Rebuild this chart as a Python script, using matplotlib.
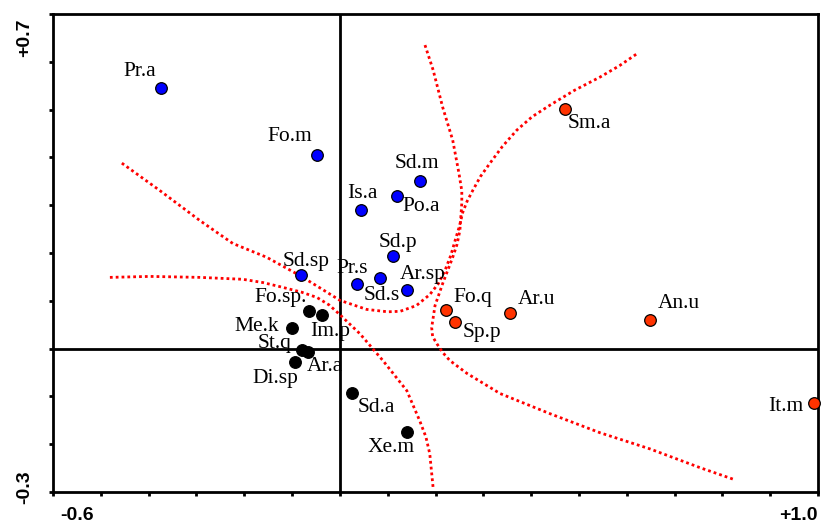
import matplotlib
matplotlib.use('Agg')
import matplotlib.pyplot as plt

# species scores (axis 1, axis 2)
blue_names = ['Pr.a', 'Fo.m', 'Sd.m', 'Is.a', 'Po.a', 'Sd.p', 'Sd.sp', 'Pr.s', 'Sd.s', 'Ar.sp']
blue_x = [-0.375, -0.048, 0.167, 0.044, 0.119, 0.111, -0.081, 0.036, 0.084, 0.140]
blue_y = [0.545, 0.405, 0.350, 0.289, 0.319, 0.193, 0.155, 0.136, 0.147, 0.122]

black_names = ['Fo.sp.', 'Im.p', 'Me.k', 'St.q', 'Ar.a', 'Di.sp', 'Sd.a', 'Xe.m']
black_x = [-0.065, -0.038, -0.100, -0.080, -0.067, -0.094, 0.025, 0.140]
black_y = [0.078, 0.071, 0.044, -0.002, -0.008, -0.029, -0.092, -0.174]

red_names = ['Sm.a', 'Fo.q', 'Sp.p', 'Ar.u', 'An.u', 'It.m']
red_x = [0.471, 0.222, 0.241, 0.356, 0.649, 0.992]
red_y = [0.501, 0.080, 0.055, 0.075, 0.059, -0.113]

# dotted boundary curves
curve_a_x = [-0.456, -0.377, -0.293, -0.224, -0.153, -0.084, -0.040, 0.000, 0.056, 0.100, 0.126,
             0.160, 0.188, 0.206, 0.220, 0.232, 0.241, 0.250, 0.257, 0.266, 0.278, 0.294, 0.314,
             0.340, 0.370, 0.402, 0.439, 0.490, 0.544, 0.585, 0.623]
curve_a_y = [0.388, 0.331, 0.268, 0.220, 0.191, 0.153, 0.126, 0.101, 0.082, 0.077, 0.078,
             0.090, 0.113, 0.136, 0.164, 0.195, 0.226, 0.256, 0.285, 0.308, 0.331, 0.360, 0.388,
             0.423, 0.457, 0.485, 0.509, 0.540, 0.568, 0.592, 0.618]

curve_b_x = [0.178, 0.195, 0.215, 0.236, 0.249, 0.255, 0.255, 0.251, 0.245, 0.236, 0.215, 0.199,
             0.192, 0.194, 0.203, 0.215, 0.230, 0.266, 0.335, 0.439, 0.544, 0.649, 0.753, 0.822]
curve_b_y = [0.635, 0.583, 0.505, 0.436, 0.367, 0.330, 0.304, 0.247, 0.218, 0.191, 0.136, 0.090,
             0.044, 0.025, 0.010, -0.008, -0.025, -0.052, -0.094, -0.136, -0.176, -0.210, -0.249, -0.273]

curve_c_x = [-0.481, -0.397, -0.293, -0.203, -0.160, -0.119, -0.080, -0.048, -0.022, 0.000,
             0.042, 0.090, 0.140, 0.167, 0.180, 0.188, 0.195]
curve_c_y = [0.149, 0.151, 0.149, 0.145, 0.138, 0.128, 0.118, 0.107, 0.091, 0.071,
             0.031, -0.025, -0.088, -0.151, -0.185, -0.220, -0.291]

# label placement: (dx, dy in pixels, ha, va)
label_pos = {
    'Pr.a': (-5, 7, 'right', 'bottom'), 'Fo.m': (-5, 9, 'right', 'bottom'),
    'Sd.m': (-3, 8, 'center', 'bottom'), 'Is.a': (1, 7, 'center', 'bottom'),
    'Po.a': (6, -1, 'left', 'top'), 'Sd.p': (5, 4, 'center', 'bottom'),
    'Sd.sp': (5, 4, 'center', 'bottom'), 'Pr.s': (-5, 6, 'center', 'bottom'),
    'Sd.s': (2, -8, 'center', 'top'), 'Ar.sp': (-7, 6, 'left', 'bottom'),
    'Fo.sp.': (-2, 4, 'right', 'bottom'), 'Im.p': (8, -7, 'center', 'top'),
    'Me.k': (-13, 1, 'right', 'center'), 'St.q': (-10, 6, 'right', 'center'),
    'Ar.a': (-1, -5, 'left', 'top'), 'Di.sp': (3, -7, 'right', 'top'),
    'Sd.a': (6, -5, 'left', 'top'), 'Xe.m': (-16, -6, 'center', 'top'),
    'Sm.a': (3, -5, 'left', 'top'), 'Fo.q': (7, 3, 'left', 'bottom'),
    'Sp.p': (8, -1, 'left', 'top'), 'Ar.u': (8, 4, 'left', 'bottom'),
    'An.u': (8, 7, 'left', 'bottom'), 'It.m': (-11, -4, 'right', 'center'),
}

fig = plt.figure(figsize=(8.26, 5.23), dpi=100)
ax = fig.add_axes([53 / 826, 31 / 523, 765 / 826, 478 / 523])
ax.set_xlim(-0.6, 1.0)
ax.set_ylim(-0.3, 0.7)

for s in ax.spines.values():
    s.set_linewidth(2)
ax.axhline(0, color='black', lw=2, zorder=1)
ax.axvline(0, color='black', lw=2, zorder=1)

dot = (0, (1, 1.1))
for cx, cy in [(curve_a_x, curve_a_y), (curve_b_x, curve_b_y), (curve_c_x, curve_c_y)]:
    ax.plot(cx, cy, color='#ff0000', lw=2, linestyle=dot, zorder=2)

groups = [(blue_names, blue_x, blue_y, '#0000ff'),
          (black_names, black_x, black_y, '#000000'),
          (red_names, red_x, red_y, '#ff3300')]
for names, xs, ys, col in groups:
    ax.scatter(xs, ys, s=70, c=col, edgecolors='black', linewidths=0.9, zorder=4, clip_on=False)
    for n, x, y in zip(names, xs, ys):
        dx, dy, ha, va = label_pos[n]
        ax.annotate(n, (x, y), xytext=(dx, dy), textcoords='offset pixels',
                    ha=ha, va=va, fontsize=15.5, family='Liberation Serif', zorder=5)

ax.set_xticks([round(-0.6 + 0.1 * i, 1) for i in range(17)])
ax.set_yticks([round(-0.3 + 0.1 * i, 1) for i in range(11)])
ax.set_xticklabels([])
ax.set_yticklabels([])
ax.tick_params(direction='out', length=3, width=2, top=False, right=False)

tfont = dict(fontsize=14, fontweight='bold', family='Liberation Sans')
ax.text(0.01, -0.058, '-0.6', transform=ax.transAxes, ha='left', va='baseline', **tfont)
ax.text(1.0, -0.058, '+1.0', transform=ax.transAxes, ha='right', va='baseline', **tfont)
ax.text(-0.026, 0.99, '+0.7', transform=ax.transAxes, ha='right', va='top', rotation=90, **tfont)
ax.text(-0.026, 0.01, '-0.3', transform=ax.transAxes, ha='right', va='center', rotation=90, **tfont)

fig.savefig('out.png', dpi=100)
